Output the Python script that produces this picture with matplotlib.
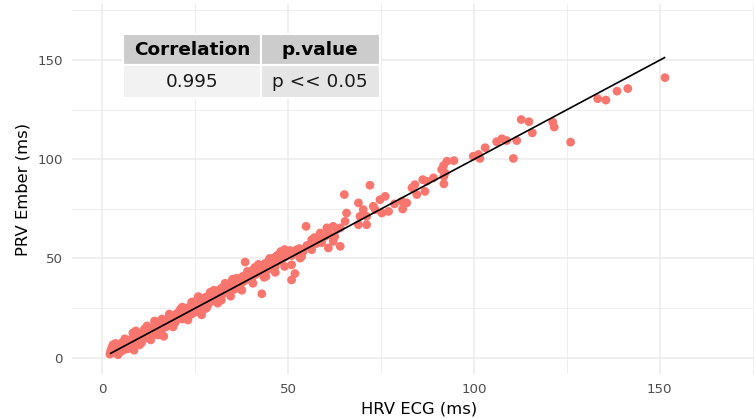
import matplotlib
matplotlib.use("Agg")
import matplotlib.pyplot as plt
from matplotlib.patches import Rectangle

# ---- data ----
hrv_ecg = [
    2.0, 2.2, 2.5, 2.8, 3.0, 3.2, 3.5, 3.8, 4.0, 4.2, 4.5, 4.8, 5.0, 5.2, 5.5, 5.8,
    6.0, 6.3, 6.5, 6.8, 7.0, 7.3, 7.5, 7.8, 8.0, 8.2, 8.5, 8.8, 9.0, 9.3, 9.5, 9.8,
    10.0, 10.3, 10.5, 10.8, 11.0, 11.3, 11.5, 11.8, 12.0, 12.3, 12.5, 12.8, 13.0, 13.3,
    13.5, 13.8, 14.0, 14.3, 14.5, 14.8, 15.0, 15.3, 15.5, 15.8, 16.0, 16.3, 16.5, 16.8,
    17.0, 17.3, 17.5, 17.8, 18.0, 18.3, 18.5, 18.8, 19.0, 19.3, 19.5, 19.8, 20.0, 20.3,
    20.5, 20.8, 21.0, 21.3, 21.5, 21.8, 22.0, 22.3, 22.5, 22.8, 23.0, 23.3, 23.5, 23.8,
    24.0, 24.3, 24.5, 24.8, 25.0, 25.3, 25.8, 26.0, 26.3, 26.7, 27.0, 27.3, 27.5, 27.8,
    28.0, 28.3, 28.5, 28.8, 29.0, 29.3, 29.5, 29.8, 30.0, 30.3, 30.5, 30.8, 31.0, 31.3,
    31.5, 31.8, 32.0, 32.3, 32.5, 32.8, 33.0, 33.3, 33.5, 33.8, 34.0, 34.3, 34.5, 34.8,
    35.0, 35.3, 35.5, 35.8, 36.0, 36.3, 36.5, 36.8, 37.0, 37.3, 37.5, 37.8, 38.0, 38.4,
    38.5, 38.8, 39.0, 39.3, 39.5, 39.8, 40.0, 40.3, 40.5, 40.8, 41.0, 41.3, 41.5, 41.8,
    42.0, 42.3, 42.9, 43.0, 43.3, 43.5, 43.8, 44.0, 44.3, 44.5, 44.8, 45.0, 45.3, 45.5,
    45.8, 46.0, 46.3, 46.5, 46.8, 47.0, 47.3, 47.5, 47.8, 48.0, 48.3, 48.5, 48.8, 49.0,
    49.3, 49.5, 50.0, 50.5, 50.9, 50.9, 51.8, 51.0, 52.0, 52.3, 53.0, 53.2, 53.6, 54.0,
    54.8, 55.0, 56.3, 56.8, 56.3, 57.0, 57.5, 58.0, 58.6, 59.0, 59.9, 60.8, 60.4, 61.0,
    62.1, 62.5, 63.0, 64.0, 60.8, 64.0, 62.1, 65.3, 65.7, 68.9, 71.1, 71.1, 70.2, 68.9,
    65.1, 72.0, 72.9, 69.3, 73.4, 75.2, 77.0, 74.7, 76.1, 78.6, 80.6, 81.9, 80.8, 83.3,
    84.1, 84.6, 86.8, 86.2, 87.3, 89.1, 91.9, 91.9, 91.3, 91.8, 92.2, 92.7, 94.6, 99.8,
    101.2, 101.6, 103.0, 106.1, 107.5, 108.8, 110.6, 111.5, 112.7, 114.8, 115.7, 121.2,
    121.6, 126.0, 133.3, 135.5, 138.5, 141.4, 151.4,
    21.5, 23.0, 25.0, 27.0, 29.0, 31.0, 33.0, 34.5, 36.0, 37.5, 39.0, 40.5, 42.0, 43.5,
    45.0, 46.5, 48.0, 49.0, 30.0, 32.0, 35.0, 41.0, 44.0, 47.0, 18.0, 15.0, 12.0, 10.0,
    6.0, 9.0, 26.0, 28.0, 24.0, 19.0,
]
prv_ember = [
    1.8, 3.5, 5.0, 6.5, 2.5, 4.2, 7.2, 3.0, 5.5, 1.5, 4.0, 6.0, 3.2, 7.5, 5.0, 4.0,
    6.8, 5.2, 8.0, 4.5, 6.5, 9.0, 7.0, 5.5, 8.5, 12.5, 3.8, 10.0, 7.8, 9.5, 11.0, 8.0,
    10.5, 12.0, 7.5, 11.5, 9.5, 14.5, 12.0, 10.0, 13.0, 11.0, 14.0, 12.5, 9.0, 15.0,
    13.0, 11.5, 18.5, 14.5, 12.5, 16.0, 14.0, 17.5, 15.0, 13.0, 19.5, 16.5, 10.8, 17.5,
    15.5, 18.5, 16.0, 20.0, 17.5, 19.0, 16.5, 21.0, 18.5, 20.5, 17.5, 22.0, 19.0, 21.5,
    23.0, 20.0, 24.5, 22.0, 19.5, 23.5, 21.0, 24.0, 22.5, 25.0, 20.5, 23.0, 25.5, 24.0,
    22.0, 26.5, 24.0, 27.0, 23.0, 26.0, 30.8, 25.0, 28.0, 21.6, 27.5, 29.0, 26.0, 30.5,
    28.0, 29.5, 27.0, 30.0, 31.5, 28.5, 30.5, 32.0, 29.5, 31.0, 33.0, 30.0, 32.5, 34.0,
    31.0, 33.5, 35.0, 32.0, 34.5, 36.0, 33.0, 35.0, 37.0, 34.0, 36.0, 33.5, 37.5, 35.5,
    38.0, 36.5, 34.5, 38.5, 37.0, 39.0, 36.0, 38.0, 40.0, 37.5, 39.5, 41.0, 38.5, 48.2,
    40.5, 42.0, 39.5, 41.5, 43.0, 40.5, 42.5, 44.0, 41.0, 43.5, 45.0, 42.0, 44.5, 46.0,
    43.0, 45.5, 32.2, 44.0, 46.5, 45.0, 47.5, 46.0, 48.0, 44.5, 47.0, 49.0, 46.5, 48.5,
    50.0, 47.5, 49.5, 46.0, 51.0, 48.5, 50.5, 52.0, 49.0, 51.5, 53.0, 50.0, 52.5, 54.5,
    51.0, 53.5, 52.0, 54.0, 46.8, 39.2, 42.4, 51.5, 53.0, 54.4, 55.0, 50.2, 51.0, 53.5,
    66.2, 56.5, 54.4, 58.6, 59.4, 60.5, 57.5, 60.0, 62.8, 58.0, 61.1, 64.5, 65.4, 62.0,
    66.2, 61.0, 64.5, 65.4, 55.3, 56.1, 58.6, 68.7, 72.9, 67.0, 67.0, 71.2, 74.6, 78.0,
    82.2, 86.9, 76.3, 71.2, 74.6, 72.9, 73.7, 79.6, 81.3, 77.5, 78.8, 78.0, 74.9, 85.6,
    87.2, 82.2, 83.8, 89.7, 88.9, 90.6, 91.4, 87.6, 94.8, 96.8, 93.1, 99.0, 99.3, 101.5,
    102.4, 100.4, 105.8, 108.8, 110.3, 109.4, 100.4, 109.4, 120.0, 118.9, 113.3, 118.7,
    116.2, 108.6, 130.5, 129.8, 134.3, 135.6, 141.1,
    25.5, 19.0, 28.5, 24.0, 33.0, 27.5, 37.5, 31.0, 40.0, 34.0, 43.5, 37.5, 47.0, 40.5,
    50.0, 43.0, 53.5, 46.0, 34.0, 29.0, 39.5, 45.5, 41.0, 51.5, 22.0, 11.5, 16.0, 6.5,
    9.5, 13.5, 30.0, 25.0, 28.0, 15.5,
]
fit_x = [2.2, 151.3]
fit_y = [2.2, 151.2]

x_ticks = [0, 50, 100, 150]
y_ticks = [0, 50, 100, 150]
minor_ticks = [25, 75, 125, 175]

table_header = ["Correlation", "p.value"]
table_row = ["0.995", "p << 0.05"]

x_label = "HRV ECG (ms)"
y_label = "PRV Ember (ms)"

# ---- figure ----
W, H = 754, 419
fig = plt.figure(figsize=(W / 100, H / 100), dpi=100)
fig.patch.set_facecolor("white")

def fx(px):
    return px / W

def fy(py):
    return 1 - py / H

left, right, top, bottom = 72, 766, 4, 374
ax = fig.add_axes([fx(left), fy(bottom), (right - left) / W, (bottom - top) / H])
ax.set_facecolor("white")
ax.set_xlim(-8.2, 178.6)
ax.set_ylim(-8.2, 178.2)

ax.set_xticks(x_ticks)
ax.set_yticks(y_ticks)
ax.set_xticks(minor_ticks, minor=True)
ax.set_yticks(minor_ticks, minor=True)
ax.grid(which="major", color="#EBEBEB", linewidth=1.1)
ax.grid(which="minor", color="#EBEBEB", linewidth=0.6)
ax.set_axisbelow(True)
for s in ax.spines.values():
    s.set_visible(False)
ax.tick_params(which="both", length=0, pad=6.5, labelsize=9.6, labelcolor="#4D4D4D")

ax.scatter(hrv_ecg, prv_ember, s=40, color="#F8766D", edgecolors="none", zorder=2, clip_on=False)
ax.plot(fit_x, fit_y, color="black", linewidth=1.2, zorder=3)

ax.set_xlabel(x_label, fontsize=11.8, color="black", labelpad=4)
ax.set_ylabel(y_label, fontsize=11.8, color="black", labelpad=5)

# ---- table ----
cols = [(122.7, 261.0), (261.0, 379.5)]
rows = [(34.0, 65.5), (65.5, 98.0)]
fills = [["#CCCCCC", "#CCCCCC"], ["#F2F2F2", "#E5E5E5"]]
texts = [table_header, table_row]
for r, (y0, y1) in enumerate(rows):
    for c, (x0, x1) in enumerate(cols):
        fig.patches.append(Rectangle((fx(x0), fy(y1)), (x1 - x0) / W, (y1 - y0) / H,
                                     transform=fig.transFigure, facecolor=fills[r][c],
                                     edgecolor="white", linewidth=1.5, zorder=5))
        fig.text(fx((x0 + x1) / 2), fy((y0 + y1) / 2), texts[r][c], ha="center", va="center",
                 fontsize=13.3, fontweight="bold" if r == 0 else "normal",
                 color="black" if r == 0 else "#1A1A1A", zorder=6)

fig.savefig("out.png", dpi=100)
